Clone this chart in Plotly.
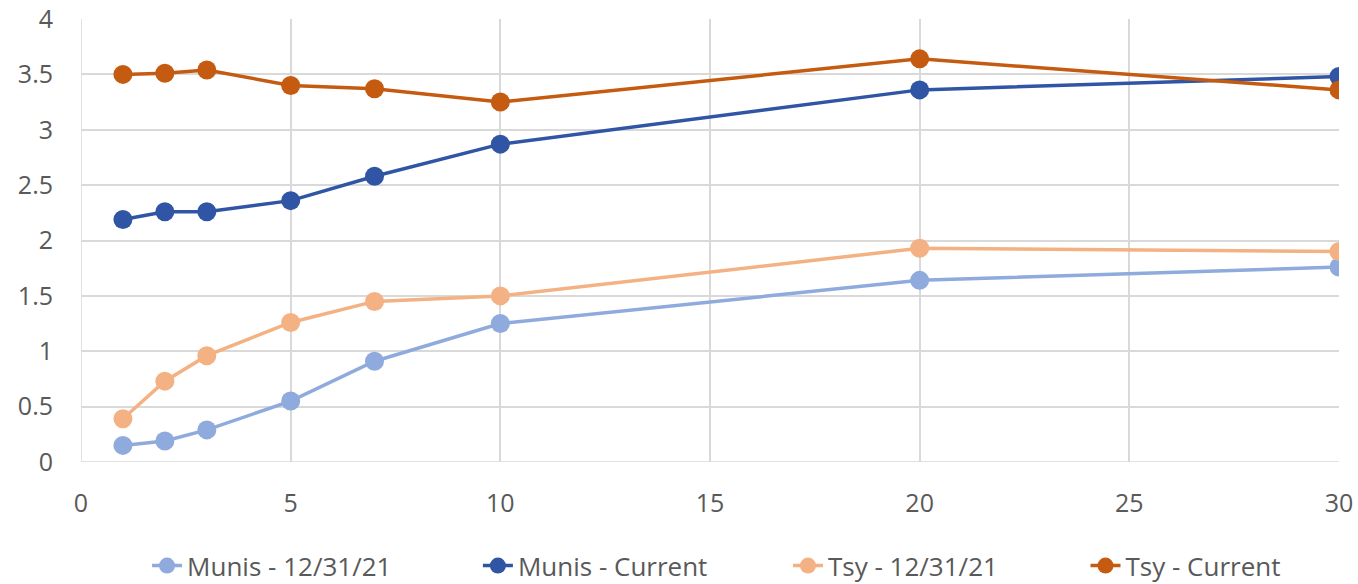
import plotly.graph_objects as go

# Maturity in years
maturities = [1, 2, 3, 5, 7, 10, 20, 30]

# Yields (%)
munis_1231 = [0.15, 0.19, 0.29, 0.55, 0.91, 1.25, 1.64, 1.76]
munis_current = [2.19, 2.26, 2.26, 2.36, 2.58, 2.87, 3.36, 3.48]
tsy_1231 = [0.39, 0.73, 0.96, 1.26, 1.45, 1.50, 1.93, 1.90]
tsy_current = [3.50, 3.51, 3.54, 3.40, 3.37, 3.25, 3.64, 3.36]

series_names = ["Munis - 12/31/21", "Munis - Current", "Tsy - 12/31/21", "Tsy - Current"]
series_values = [munis_1231, munis_current, tsy_1231, tsy_current]
series_colors = ["#8faadc", "#2f55a4", "#f4b183", "#c55a11"]

# Each series gets its own legend box so the entries can be spaced out along the bottom
legend_ids = ["legend", "legend2", "legend3", "legend4"]
legend_x = [0.0525, 0.3155, 0.562, 0.7985]

W, H = 1358, 584
MARGIN = dict(l=81, r=19, t=19, b=122, autoexpand=False)

tick_font = dict(family="Open Sans, sans-serif", size=25, color="#595959")
legend_font = dict(family="Open Sans, sans-serif", size=26, color="#595959")

fig = go.Figure()
for name, vals, color, lid in zip(series_names, series_values, series_colors, legend_ids):
    fig.add_trace(go.Scatter(
        x=maturities, y=vals, name=name, mode="lines+markers",
        line=dict(color=color, width=3.5),
        marker=dict(color=color, size=19),
        legend=lid, showlegend=True,
    ))

legend_common = dict(orientation="h", xanchor="left", y=-0.234, yanchor="middle",
                     font=legend_font, bgcolor="rgba(0,0,0,0)", borderwidth=0)
legends = {lid: dict(x=lx, **legend_common) for lid, lx in zip(legend_ids, legend_x)}

fig.update_layout(
    width=W, height=H,
    margin=MARGIN,
    showlegend=True,
    paper_bgcolor="white", plot_bgcolor="white",
    font=tick_font,
    xaxis=dict(range=[0, 30], tickvals=[0, 5, 10, 15, 20, 25, 30],
               showgrid=True, gridcolor="#d9d9d9", gridwidth=1.5, automargin=False,
               zeroline=False, showline=False, ticks="", ticklabelstandoff=24),
    yaxis=dict(range=[0, 4], tickvals=[0, 0.5, 1, 1.5, 2, 2.5, 3, 3.5, 4],
               ticktext=["0", "0.5", "1", "1.5", "2", "2.5", "3", "3.5", "4"],
               showgrid=True, gridcolor="#d9d9d9", gridwidth=1.5, automargin=False,
               zeroline=False, showline=False, ticks="", ticklabelstandoff=27),
    **legends,
)
fig.add_shape(type="line", xref="x", yref="y", x0=0, x1=30, y0=0, y1=0,
              line=dict(color="#d9d9d9", width=1.5), layer="below")
fig.add_shape(type="line", xref="x", yref="y", x0=0, x1=0, y0=0, y1=4,
              line=dict(color="#d9d9d9", width=1.5), layer="below")

fig.write_html("out.html")
